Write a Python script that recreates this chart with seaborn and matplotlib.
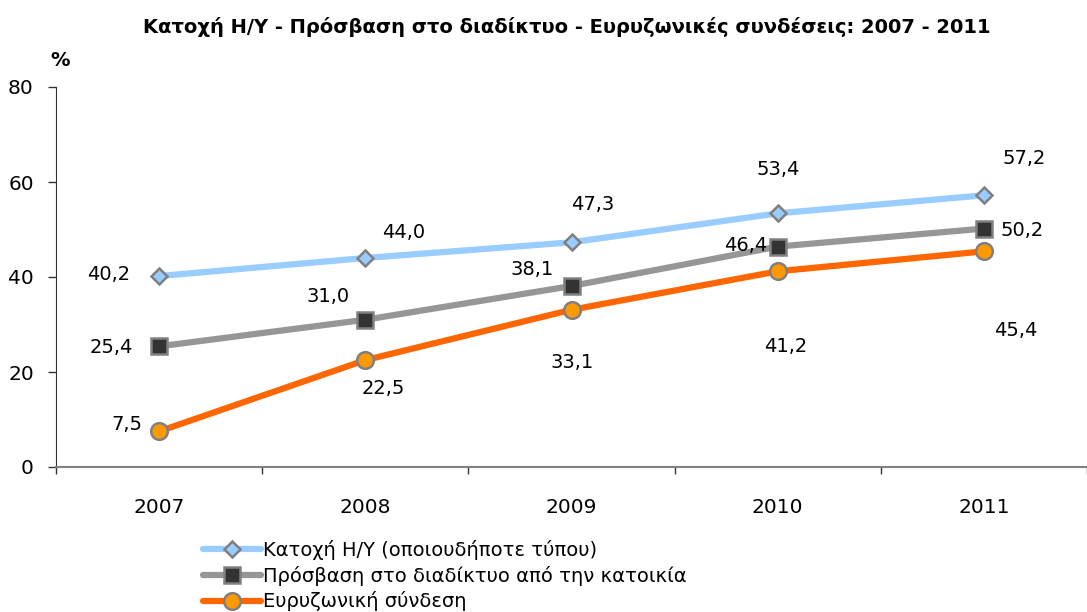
import numpy as np
import pandas as pd
import seaborn as sns
import matplotlib.pyplot as plt

# Chart data
years = ["2007", "2008", "2009", "2010", "2011"]
pc_ownership = [40.2, 44.0, 47.3, 53.4, 57.2]
internet_access = [25.4, 31.0, 38.1, 46.4, 50.2]
broadband = [7.5, 22.5, 33.1, 41.2, 45.4]

series_names = [
    "Κατοχή Η/Υ (οποιουδήποτε τύπου)",
    "Πρόσβαση στο διαδίκτυο από την κατοικία",
    "Ευρυζωνική σύνδεση",
]

sns.set_style("white")
plt.rcParams["font.family"] = ["DejaVu Sans"]
plt.rcParams["text.color"] = "black"
plt.rcParams["xtick.color"] = "black"
plt.rcParams["ytick.color"] = "black"

df = pd.DataFrame({
    "year": years * 3,
    "x": list(range(len(years))) * 3,
    "value": pc_ownership + internet_access + broadband,
    "series": [series_names[0]] * 5 + [series_names[1]] * 5 + [series_names[2]] * 5,
})

fig = plt.figure(figsize=(10.87, 6.12), dpi=100)
ax = fig.add_axes([56 / 1087, (612 - 467) / 612, 1 - 56 / 1087, (467 - 87) / 612])

styles = [
    dict(color="#99CCFF", marker="D", markerfacecolor="#99CCFF", markersize=8),
    dict(color="#969696", marker="s", markerfacecolor="#333333", markersize=11),
    dict(color="#FF6600", marker="o", markerfacecolor="#FF9900", markersize=12),
]

for name, st in zip(series_names, styles):
    sub = df[df["series"] == name]
    sns.lineplot(data=sub, x="x", y="value", ax=ax, label=name,
                 color=st["color"], linewidth=4.5, marker=st["marker"],
                 markersize=st["markersize"], markerfacecolor=st["markerfacecolor"],
                 markeredgecolor="#808080", markeredgewidth=1.8)

# data label offsets in pixels (dx, dy up)
offsets = [
    [(-50, 2), (38, 25), (21, 38), (0, 44), (40, 37)],
    [(-48, -1), (-37, 23), (-39, 17), (-32, 1), (38, -2)],
    [(-32, 7), (18, -28), (1, -53), (8, -75), (32, -79)],
]
for vals, offs in zip([pc_ownership, internet_access, broadband], offsets):
    for i, (v, (dx, dy)) in enumerate(zip(vals, offs)):
        ax.annotate(f"{v:.1f}".replace(".", ","), (i, v), xytext=(dx, dy),
                    textcoords="offset pixels", ha="center", va="center",
                    fontsize=14, color="black")

ax.set_xlim(-0.5, (1087 - 160) / 207.5)
ax.set_ylim(0, 80)
ax.set_yticks([0, 20, 40, 60, 80])
ax.set_xticks(range(len(years)))
ax.set_xticklabels(years)
ax.set_xticks(np.arange(-0.5, 4.6, 1), minor=True)
ax.tick_params(axis="x", which="major", length=0, pad=22, labelsize=14.5)
ax.tick_params(axis="x", which="minor", bottom=True, length=5, width=1,
               color="#333333", direction="out")
ax.tick_params(axis="y", left=True, length=6, width=1, color="#333333",
               direction="out", labelsize=14.5, pad=10)
ax.set_xlabel("")
ax.set_ylabel("")

for s in ["top", "right"]:
    ax.spines[s].set_visible(False)
ax.spines["left"].set_color("#333333")
ax.spines["bottom"].set_color("#808080")
ax.spines["bottom"].set_linewidth(1.5)

fig.text(567 / 1087, 1 - 27 / 612, "Κατοχή Η/Υ - Πρόσβαση στο διαδίκτυο - Ευρυζωνικές συνδέσεις: 2007 - 2011",
         ha="center", va="center", fontsize=14, fontweight="bold")
fig.text(60 / 1087, 1 - 61 / 612, "%", ha="center", va="center", fontsize=14, fontweight="bold")

ax.legend(loc="upper left", bbox_to_anchor=(195 / 1087, 1 - 532 / 612),
          bbox_transform=fig.transFigure, frameon=False, fontsize=14,
          handlelength=3.0, handletextpad=0.1, labelspacing=0.3, borderaxespad=0)

fig.savefig("out.png", dpi=100)
